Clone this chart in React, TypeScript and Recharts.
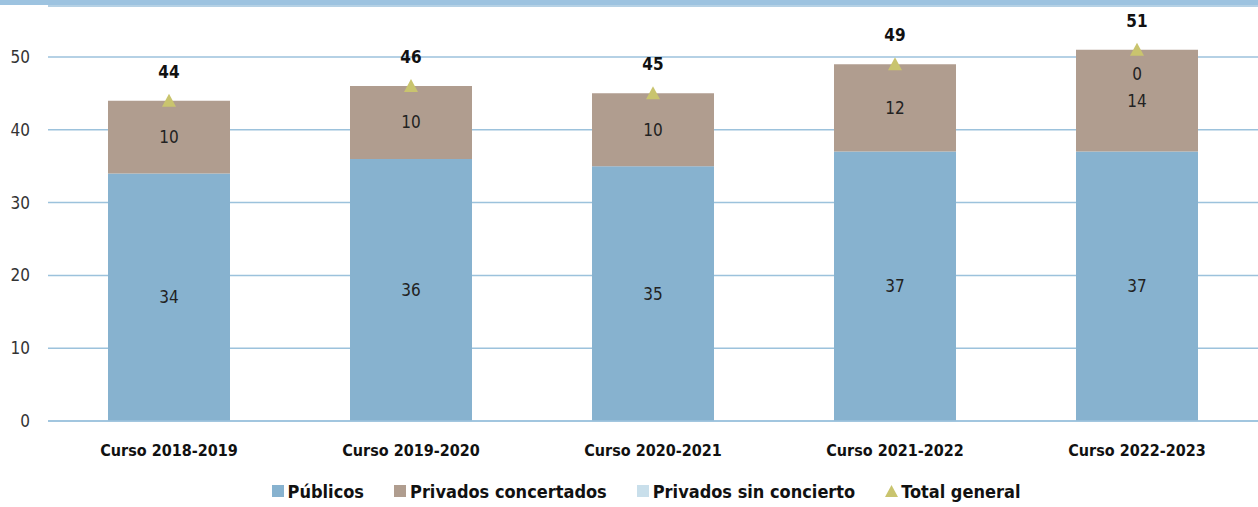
import React from "react";
import {
  ComposedChart,
  Bar,
  Line,
  XAxis,
  YAxis,
  CartesianGrid,
  Legend,
  LabelList,
} from "recharts";

const categories = [
  "Curso 2018-2019",
  "Curso 2019-2020",
  "Curso 2020-2021",
  "Curso 2021-2022",
  "Curso 2022-2023",
];
const publicos = [34, 36, 35, 37, 37];
const concertados = [10, 10, 10, 12, 14];
const sinConcierto: (number | null)[] = [null, null, null, null, 0];
const totalGeneral = [44, 46, 45, 49, 51];
const yTicks = [0, 10, 20, 30, 40, 50];

const data = categories.map((name, i) => ({
  name,
  publicos: publicos[i],
  concertados: concertados[i],
  sinConcierto: sinConcierto[i],
  total: totalGeneral[i],
}));

const FONT = '"Liberation Sans Narrow", "Arial Narrow", "DejaVu Sans Condensed", sans-serif';
const BLUE = "#87b2cf";
const BROWN = "#b09d8f";
const LIGHT = "#c9dfeb";
const OLIVE = "#c9c46e";
const GRID = "#9cc2dc";

const Triangle = (props: any) => {
  const { cx, cy } = props;
  if (cx == null || cy == null) return null;
  return (
    <path
      d={`M${cx},${cy - 7} L${cx + 7},${cy + 6} L${cx - 7},${cy + 6} Z`}
      fill={OLIVE}
    />
  );
};

const TotalLabel = (props: any) => {
  const { x, y, value } = props;
  return (
    <text
      x={x}
      y={y - 23}
      textAnchor="middle"
      fontFamily={FONT}
      fontWeight="bold"
      fontSize={17}
      fill="#111"
    >
      {value}
    </text>
  );
};

// brown segment label, plus the zero-height "sin concierto" value drawn just above it
const ConcertadosLabel = (props: any) => {
  const { x, y, width, height, value, index } = props;
  const extra = sinConcierto[index];
  return (
    <g fontFamily={FONT} fontSize={17} fill="#222" textAnchor="middle">
      <text x={x + width / 2} y={y + height / 2} dominantBaseline="central">
        {value}
      </text>
      {extra != null && (
        <text x={x + width / 2} y={y + 24} dominantBaseline="central">
          {extra}
        </text>
      )}
    </g>
  );
};

const legendItems = [
  { label: "Públicos", color: BLUE, shape: "square" },
  { label: "Privados concertados", color: BROWN, shape: "square" },
  { label: "Privados sin concierto", color: LIGHT, shape: "square" },
  { label: "Total general", color: OLIVE, shape: "triangle" },
];

const CustomLegend = () => (
  <div
    style={{
      display: "flex",
      justifyContent: "center",
      paddingLeft: 34,
      paddingTop: 10,
      fontFamily: FONT,
      fontWeight: "bold",
      fontSize: 18,
      color: "#111",
    }}
  >
    {legendItems.map((item, i) => (
      <div
        key={item.label}
        style={{
          display: "flex",
          alignItems: "center",
          marginRight: i === legendItems.length - 1 ? 0 : 30,
        }}
      >
        <svg width={13} height={13} style={{ marginRight: 3 }}>
          {item.shape === "square" ? (
            <rect x={0} y={0} width={12} height={12} fill={item.color} />
          ) : (
            <path d="M6.5,0 L13,12 L0,12 Z" fill={item.color} />
          )}
        </svg>
        <span>{item.label}</span>
      </div>
    ))}
  </div>
);

export default function App() {
  return (
    <div style={{ position: "absolute", left: 0, top: 0, width: 1258, height: 507, background: "#fff" }}>
      <ComposedChart
        width={1258}
        height={507}
        data={data}
        margin={{ top: 6, right: 0, bottom: 0, left: 0 }}
        barCategoryGap={60}
      >
        <CartesianGrid horizontal vertical={false} stroke={GRID} strokeWidth={1.5} />
        <XAxis
          dataKey="name"
          axisLine={{ stroke: GRID, strokeWidth: 1.5 }}
          tickLine={false}
          height={50}
          tickMargin={18}
          tick={{ fontFamily: FONT, fontWeight: "bold", fontSize: 16, fill: "#111" }}
        />
        <YAxis
          width={48}
          domain={[0, 57]}
          ticks={yTicks}
          axisLine={false}
          tickLine={false}
          tickSize={0}
          tickMargin={18}
          tick={{ fontFamily: FONT, fontSize: 17, fill: "#333" }}
        />
        <Legend verticalAlign="bottom" height={36} content={<CustomLegend />} />
        <Bar dataKey="publicos" stackId="a" fill={BLUE} barSize={122} isAnimationActive={false}>
          <LabelList dataKey="publicos" position="center" fill="#222" fontFamily={FONT} fontSize={17} />
        </Bar>
        <Bar dataKey="concertados" stackId="a" fill={BROWN} barSize={122} isAnimationActive={false}>
          <LabelList dataKey="concertados" content={<ConcertadosLabel />} />
        </Bar>
        <Bar dataKey="sinConcierto" stackId="a" fill={LIGHT} barSize={122} isAnimationActive={false} />
        <Line
          dataKey="total"
          stroke="none"
          dot={<Triangle />}
          activeDot={false}
          isAnimationActive={false}
        >
          <LabelList dataKey="total" content={<TotalLabel />} />
        </Line>
      </ComposedChart>
      <div style={{ position: "absolute", left: 0, top: 0, width: 1258, height: 5, background: "#9dc3e0" }} />
    </div>
  );
}
